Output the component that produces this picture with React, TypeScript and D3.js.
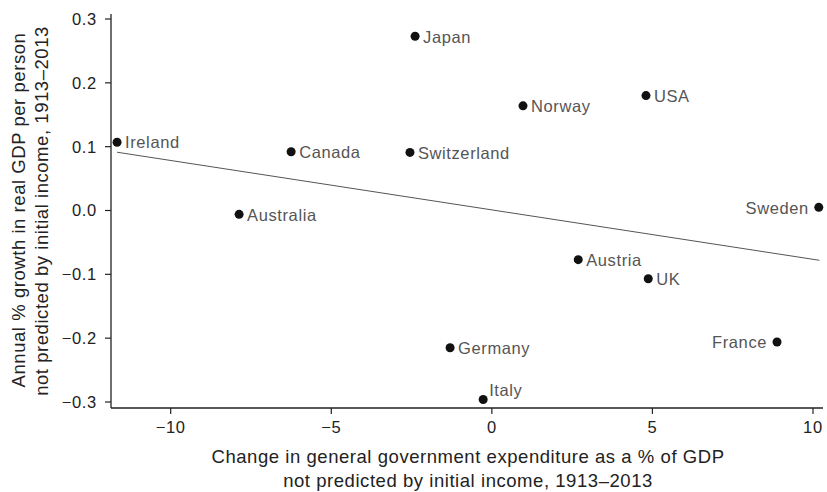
import React from "react";
import * as d3 from "d3";

const countries = ["Ireland", "Canada", "Switzerland", "Japan", "Norway", "USA", "Sweden", "Australia", "Austria", "UK", "France", "Germany", "Italy"];
const expenditureChange = [-11.67, -6.25, -2.55, -2.39, 0.97, 4.8, 10.18, -7.87, 2.69, 4.87, 8.88, -1.3, -0.27];
const growthUnexplained = [0.107, 0.092, 0.091, 0.273, 0.164, 0.18, 0.005, -0.006, -0.077, -0.107, -0.206, -0.215, -0.296];
const labelPlacement = ["right", "right", "right", "right", "right", "right", "left", "right", "right", "right", "left", "right", "above"];
const fitX = [-11.67, 10.2];
const fitY = [0.0913, -0.078];
const xTicks = [-10, -5, 0, 5, 10];
const yTicks = [0.3, 0.2, 0.1, 0.0, -0.1, -0.2, -0.3];

const W = 827;
const H = 492;
const FONT = "'Liberation Sans', Arial, Helvetica, sans-serif";

export default function App() {
  const x = d3.scaleLinear().domain([-10, 10]).range([170.7, 813]);
  const y = d3.scaleLinear().domain([-0.3, 0.3]).range([402, 19]);
  const left = 111;
  const right = 823;
  const top = 14;
  const bottom = 408;
  const line = d3.line<[number, number]>().x((d) => x(d[0])).y((d) => y(d[1]));
  const fitPts: [number, number][] = fitX.map((v, i) => [v, fitY[i]]);

  return (
    <div style={{ position: "absolute", left: 0, top: 0 }}>
      <svg width={W} height={H} style={{ display: "block", background: "#fff" }}>
        <g fontFamily={FONT}>
          <line x1={left} x2={left} y1={top} y2={bottom} stroke="#222" strokeWidth={1.3} />
          <line x1={left} x2={right} y1={bottom} y2={bottom} stroke="#222" strokeWidth={1.3} />
          {yTicks.map((t) => (
            <g key={"y" + t}>
              <line x1={left - 6} x2={left} y1={y(t)} y2={y(t)} stroke="#222" strokeWidth={1.2} />
              <text x={left - 14} y={y(t)} dy="0.36em" textAnchor="end" fontSize={16.5} letterSpacing={0.7} fill="#222">
                {d3.format(".1f")(t).replace("-", "\u2212")}
              </text>
            </g>
          ))}
          {xTicks.map((t) => (
            <g key={"x" + t}>
              <line x1={x(t)} x2={x(t)} y1={bottom} y2={bottom + 6} stroke="#222" strokeWidth={1.2} />
              <text x={x(t)} y={433} textAnchor="middle" fontSize={16.5} letterSpacing={0.7} fill="#222">
                {String(t).replace("-", "\u2212")}
              </text>
            </g>
          ))}
          <path d={line(fitPts) || ""} fill="none" stroke="#555" strokeWidth={1} />
          {countries.map((c, i) => {
            const px = x(expenditureChange[i]);
            const py = y(growthUnexplained[i]);
            const side = labelPlacement[i];
            let tx = px + 8;
            let ty = py + 0.5;
            let anchor: "start" | "end" = "start";
            if (side === "left") {
              tx = px - 10;
              anchor = "end";
            } else if (side === "above") {
              tx = px + 6;
              ty = py - 9;
            }
            return (
              <g key={c}>
                <circle cx={px} cy={py} r={4.5} fill="#111" />
                <text x={tx} y={ty} dy="0.35em" textAnchor={anchor} fontSize={16.5} letterSpacing={0.6} fill="#555">
                  {c}
                </text>
              </g>
            );
          })}
          <text x={468} y={463} textAnchor="middle" fontSize={18.5} letterSpacing={0.55} fill="#222">
            Change in general government expenditure as a % of GDP
          </text>
          <text x={468} y={487} textAnchor="middle" fontSize={18.5} letterSpacing={0.55} fill="#222">
            not predicted by initial income, 1913–2013
          </text>
          <text transform="translate(25,210) rotate(-90)" textAnchor="middle" fontSize={18.5} letterSpacing={0.55} fill="#222">
            Annual % growth in real GDP per person
          </text>
          <text transform="translate(48,211) rotate(-90)" textAnchor="middle" fontSize={18.5} letterSpacing={0.55} fill="#222">
            not predicted by initial income, 1913–2013
          </text>
        </g>
      </svg>
    </div>
  );
}
